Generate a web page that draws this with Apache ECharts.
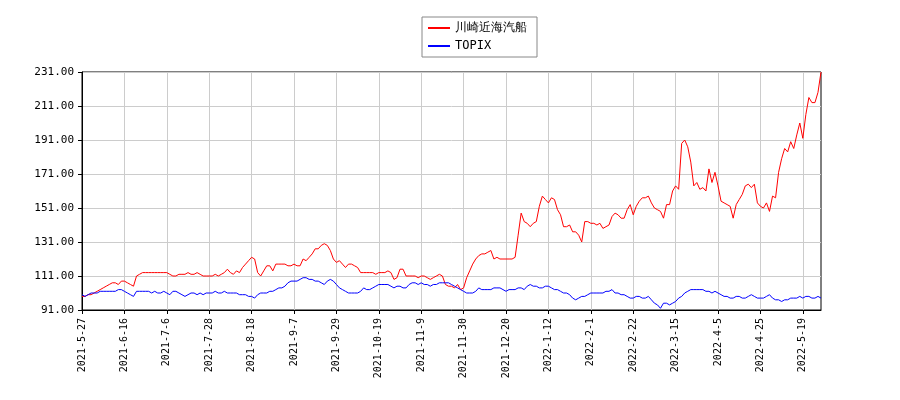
<!DOCTYPE html>
<html><head><meta charset="utf-8">
<script src="https://cdn.jsdelivr.net/npm/echarts@6/dist/echarts.min.js"></script>
<style>html,body{margin:0;background:#fff}#c{width:900px;height:400px}</style></head>
<body><div id="c"></div>
<script>
const startDate = '2021-05-27';
const endDate = '2022-05-27';
const holidays = ['2021-07-22','2021-07-23','2021-08-09','2021-09-20','2021-09-23','2021-11-03','2021-11-23','2021-12-31','2022-01-03','2022-01-10','2022-02-11','2022-02-23','2022-03-21','2022-04-29','2022-05-03','2022-05-04','2022-05-05'];
const yTicks = [91, 111, 131, 151, 171, 191, 211, 231];
const kawasaki = [
99,99,100,100,101,102,103,104,105,106,
107,107,106,108,108,107,106,105,111,112,
113,113,113,113,113,113,113,113,113,112,
111,111,112,112,112,113,112,112,113,112,
111,111,111,111,112,111,112,113,115,113,
112,114,113,116,118,120,122,121,113,111,
114,117,117,114,118,118,118,118,117,117,
118,117,117,121,120,122,124,127,127,129,
130,129,126,121,119,120,118,116,118,118,
117,116,113,113,113,113,113,112,113,113,
113,114,113,109,110,115,115,111,111,111,
111,110,111,111,110,109,110,111,112,111,
106,105,105,104,106,103,104,110,114,118,
121,123,124,124,125,126,121,122,121,121,
121,121,121,122,135,148,143,142,140,142,
143,152,158,156,154,157,156,150,147,140,
140,141,137,137,135,131,143,143,142,142,
141,142,139,140,141,146,148,147,145,145,
150,153,147,152,155,157,157,158,154,151,
150,149,145,153,153,161,164,162,189,191,
187,178,164,166,162,163,161,174,166,172,
164,155,154,153,152,145,153,156,159,164,
165,163,165,154,152,151,154,149,158,157,
172,180,186,184,190,186,194,201,192,206,
216,213,213,219,231];
const topix = [
100,99,100,101,101,101,102,102,102,102,
102,102,103,103,102,101,100,99,102,102,
102,102,102,101,102,101,101,102,101,100,
102,102,101,100,99,100,101,101,100,101,
100,101,101,101,102,101,101,102,101,101,
101,101,100,100,100,99,99,98,100,101,
101,101,102,102,103,104,104,105,107,108,
108,108,109,110,110,109,109,108,108,107,
106,108,109,108,106,104,103,102,101,101,
101,101,102,104,103,103,104,105,106,106,
106,106,105,104,105,105,104,104,106,107,
107,106,107,106,106,105,106,106,107,107,
107,107,106,105,104,103,102,101,101,101,
102,104,103,103,103,103,104,104,104,103,
102,103,103,103,104,104,103,105,106,105,
105,104,104,105,105,104,103,103,102,101,
101,100,98,97,98,99,99,100,101,101,
101,101,101,102,102,103,101,101,100,100,
99,98,98,99,99,98,98,99,97,95,
94,92,95,95,94,95,96,98,99,101,
102,103,103,103,103,103,102,102,101,102,
101,100,99,99,98,98,99,99,98,98,
99,100,99,98,98,98,99,100,98,97,
97,96,97,97,98,98,98,99,98,99,
99,98,98,99,98];

function tradingDays(s, e, hol) {
  const out = [];
  const d = new Date(s + 'T00:00:00Z'), end = new Date(e + 'T00:00:00Z');
  const p = n => String(n).padStart(2, '0');
  while (d <= end) {
    const wd = d.getUTCDay();
    const iso = d.getUTCFullYear() + '-' + p(d.getUTCMonth() + 1) + '-' + p(d.getUTCDate());
    if (wd !== 0 && wd !== 6 && hol.indexOf(iso) < 0)
      out.push(d.getUTCFullYear() + '-' + (d.getUTCMonth() + 1) + '-' + d.getUTCDate());
    d.setUTCDate(d.getUTCDate() + 1);
  }
  return out;
}
const dates = tradingDays(startDate, endDate, holidays);
const font = 'DejaVu Sans Mono';
const chart = echarts.init(document.getElementById('c'));
chart.setOption({
  animation: false,
  textStyle: { fontFamily: font },
  legend: {
    orient: 'vertical', left: 422, top: 17,
    itemWidth: 22, itemHeight: 2, itemGap: 6,
    padding: [5, 10, 5, 6],
    borderColor: '#888', borderWidth: 1, backgroundColor: '#fff',
    textStyle: { fontFamily: font, fontSize: 12, color: '#000' },
    data: [{ name: '川崎近海汽船', icon: 'rect' }, { name: 'TOPIX', icon: 'rect' }]
  },
  grid: { left: 82, right: 79, top: 72, bottom: 90, show: true, borderColor: '#000', borderWidth: 1 },
  xAxis: {
    type: 'category', data: dates, boundaryGap: false,
    axisLine: { lineStyle: { color: '#000' } },
    axisTick: { interval: 13, length: 4, lineStyle: { color: '#000' } },
    axisLabel: { interval: 13, rotate: 90, fontSize: 10, color: '#000', fontFamily: font },
    splitLine: { show: true, interval: 13, lineStyle: { color: '#ccc' } }
  },
  yAxis: {
    type: 'value', min: yTicks[0], max: yTicks[yTicks.length - 1], interval: 20,
    axisLine: { show: true, lineStyle: { color: '#000' } },
    axisTick: { show: true, length: 4, lineStyle: { color: '#000' } },
    axisLabel: { fontSize: 11, color: '#000', fontFamily: font, formatter: v => v.toFixed(2) },
    splitLine: { lineStyle: { color: '#ccc' } }
  },
  series: [
    { name: '川崎近海汽船', type: 'line', data: kawasaki, symbol: 'none', lineStyle: { color: '#ff0000', width: 1 }, itemStyle: { color: '#ff0000' } },
    { name: 'TOPIX', type: 'line', data: topix, symbol: 'none', lineStyle: { color: '#0000ff', width: 1 }, itemStyle: { color: '#0000ff' } }
  ]
});
</script></body></html>
